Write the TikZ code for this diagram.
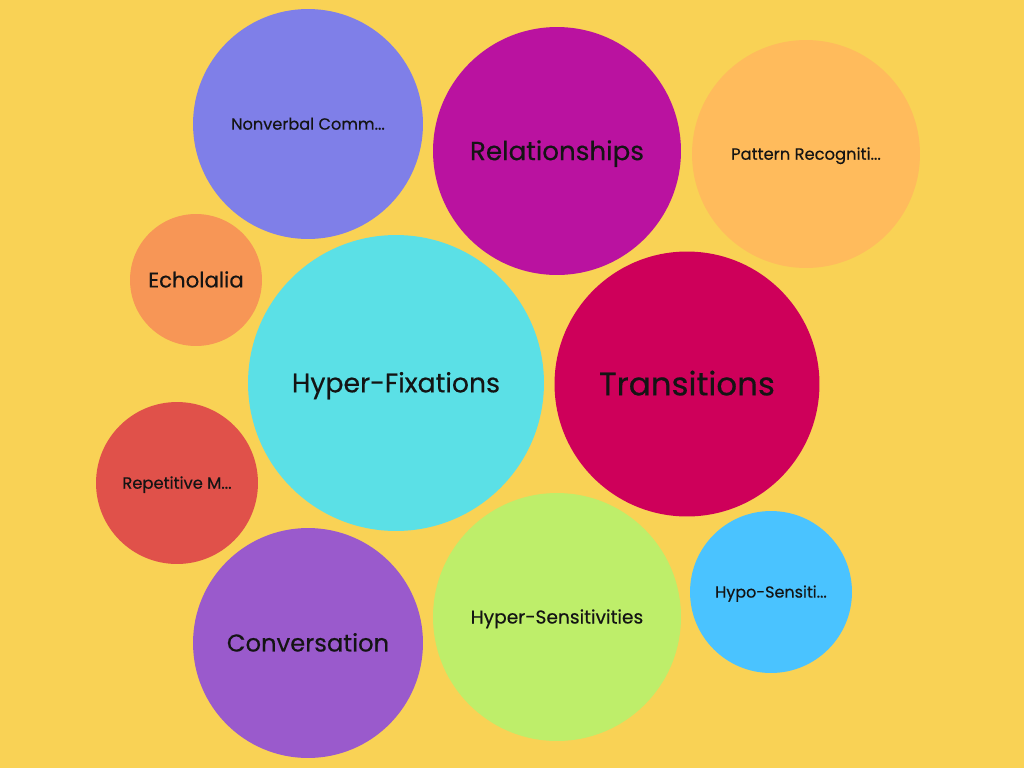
\documentclass[tikz,border=0pt]{standalone}
\usepackage{fontspec}
\setmainfont{Poppins}
\newfontfamily\medfont[FakeBold=0.4]{Poppins}
\usetikzlibrary{positioning}
\definecolor{bg}{HTML}{F9D255}
\definecolor{cNonverbal}{HTML}{7F7FE8}
\definecolor{cRelation}{HTML}{BA12A0}
\definecolor{cPattern}{HTML}{FFBB5C}
\definecolor{cEcho}{HTML}{F79656}
\definecolor{cFixation}{HTML}{5BE0E6}
\definecolor{cTransition}{HTML}{CE005A}
\definecolor{cRepetitive}{HTML}{E0514A}
\definecolor{cConversation}{HTML}{9A5ACC}
\definecolor{cHyperSens}{HTML}{BEEE6A}
\definecolor{cHypoSens}{HTML}{4AC3FF}

\begin{document}
\begin{tikzpicture}[x=0.02cm, y=-0.02cm,
  bubble/.style={circle, inner sep=0pt, text=black!92, font=\medfont\fontsize{#1}{#1}\selectfont,
    text height={0.7*#1pt}, text depth=0pt}]
\fill[bg] (0,0) rectangle (1024,768);
\useasboundingbox (0,0) rectangle (1024,768);
\node[bubble=9.2, fill=cNonverbal, minimum size=4.6cm] (nonverbal) at (308,124){Nonverbal Comm...};
\node[bubble=14.9, fill=cRelation, minimum size=4.96cm] (relation) at (557,151){Relationships};
\node[bubble=9.3, fill=cPattern, minimum size=4.56cm] (pattern) at (806,154){Pattern Recogniti...};
\node[bubble=12.1, fill=cEcho, minimum size=2.64cm] (echo) at (196,280){Echolalia};
\node[bubble=15.2, fill=cFixation, minimum size=5.92cm] (fixation) at (396,383){Hyper-Fixations};
\node[bubble=18.5, fill=cTransition, minimum size=5.3cm] (transition) at (687,384){Transitions};
\node[bubble=9.3, fill=cRepetitive, minimum size=3.24cm] (repetitive) at (177,483){Repetitive M...};
\node[bubble=13.8, fill=cConversation, minimum size=4.6cm] (conversation) at (308,643){Conversation};
\node[bubble=10.6, fill=cHyperSens, minimum size=4.96cm] (hypersens) at (557,617){Hyper-Sensitivities};
\node[bubble=9.1, fill=cHypoSens, minimum size=3.24cm] (hyposens) at (771,592){Hypo-Sensiti...};
\end{tikzpicture}
\end{document}
